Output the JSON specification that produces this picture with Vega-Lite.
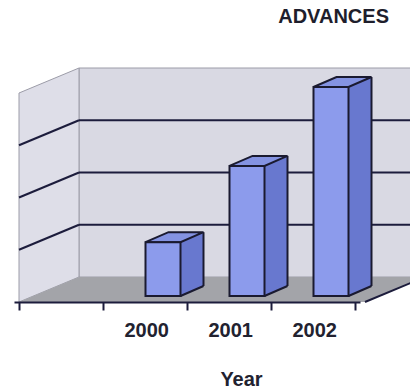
{
  "$schema": "https://vega.github.io/schema/vega-lite/v6.json",
  "autosize": {"type": "none"},
  "width": 346,
  "height": 209,
  "padding": {"left": 14, "top": 93, "right": 50, "bottom": 86},
  "background": "white",
  "config": {"view": {"stroke": null}},
  "title": {"text": "ADVANCES", "anchor": "end", "frame": "group", "baseline": "alphabetic", "offset": 23, "dx": 29, "font": "Liberation Sans", "fontSize": 20, "fontWeight": "bold", "color": "#1e1e2c"},
  "datasets": {
    "bars": [
      {"Year": 2000, "Value": 1.03},
      {"Year": 2001, "Value": 2.49},
      {"Year": 2002, "Value": 4.0}
    ],
    "grid": [{"level": 1}, {"level": 2}, {"level": 3}],
    "frame": [{"part": "walls"}]
  },
  "layer": [
    {
      "data": {"name": "frame"},
      "mark": {"type": "rect", "fill": "#d9d9e3", "stroke": "#9c9ca8", "strokeWidth": 1, "xOffset": 60, "x2Offset": 60, "yOffset": -25, "y2Offset": -25},
      "encoding": {
        "x": {"datum": 1998.5, "type": "quantitative", "scale": {"domain": [1998.5, 2002.5], "nice": false, "zero": false}},
        "x2": {"datum": 2002.5},
        "y": {"datum": 0, "type": "quantitative", "scale": {"domain": [0, 4], "nice": false}, "axis": null},
        "y2": {"datum": 4}
      }
    },
    {
      "data": {"name": "frame"},
      "mark": {"type": "point", "shape": "M0,0L0,-209L60,-234L60,-25Z", "size": 4, "filled": true, "opacity": 1, "fill": "#dedee8", "stroke": "#9c9ca8", "strokeWidth": 1},
      "encoding": {
        "x": {"datum": 1998.5, "type": "quantitative", "scale": {"domain": [1998.5, 2002.5], "nice": false, "zero": false}},
        "y": {"datum": 0, "type": "quantitative", "scale": {"domain": [0, 4], "nice": false}, "axis": null}
      }
    },
    {
      "data": {"name": "grid"},
      "mark": {"type": "rule", "stroke": "#1c1c3c", "strokeWidth": 2, "xOffset": 60, "x2Offset": 60, "yOffset": -25},
      "encoding": {
        "x": {"datum": 1998.5, "type": "quantitative", "scale": {"domain": [1998.5, 2002.5], "nice": false, "zero": false}},
        "x2": {"datum": 2002.5},
        "y": {"field": "level", "type": "quantitative", "scale": {"domain": [0, 4], "nice": false}, "axis": null}
      }
    },
    {
      "data": {"name": "grid"},
      "mark": {"type": "point", "shape": "M0,0L60,-25", "size": 4, "filled": false, "opacity": 1, "stroke": "#1c1c3c", "strokeWidth": 2},
      "encoding": {
        "x": {"datum": 1998.5, "type": "quantitative", "scale": {"domain": [1998.5, 2002.5], "nice": false, "zero": false}},
        "y": {"field": "level", "type": "quantitative", "scale": {"domain": [0, 4], "nice": false}, "axis": null}
      }
    },
    {
      "data": {"name": "frame"},
      "mark": {"type": "point", "shape": "M0,0L346,0L406,-25L60,-25Z", "size": 4, "filled": true, "opacity": 1, "fill": "#a3a4a9", "strokeWidth": 0},
      "encoding": {
        "x": {"datum": 1998.5, "type": "quantitative", "scale": {"domain": [1998.5, 2002.5], "nice": false, "zero": false}},
        "y": {"datum": 0, "type": "quantitative", "scale": {"domain": [0, 4], "nice": false}, "axis": null}
      }
    },
    {
      "data": {"name": "frame"},
      "mark": {"type": "point", "shape": "M346,0L406,-25", "size": 4, "filled": false, "opacity": 1, "stroke": "#1c1c3c", "strokeWidth": 2},
      "encoding": {
        "x": {"datum": 1998.5, "type": "quantitative", "scale": {"domain": [1998.5, 2002.5], "nice": false, "zero": false}},
        "y": {"datum": 0, "type": "quantitative", "scale": {"domain": [0, 4], "nice": false}, "axis": null}
      }
    },
    {
      "data": {"name": "bars"},
      "mark": {"type": "bar", "width": 35, "fill": "#6878cf", "strokeWidth": 0, "xOffset": 41, "yOffset": -16, "y2Offset": -16},
      "encoding": {
        "x": {"field": "Year", "type": "quantitative", "scale": {"domain": [1998.5, 2002.5], "nice": false, "zero": false}},
        "y": {"field": "Value", "type": "quantitative", "scale": {"domain": [0, 4], "nice": false}, "axis": null}
      }
    },
    {
      "data": {"name": "bars"},
      "mark": {"type": "point", "shape": "M-1,0L0,0L23,-10L23,-11L-1,-11Z", "size": 4, "filled": true, "opacity": 1, "fill": "#6878cf", "strokeWidth": 0, "xOffset": 35.5, "yOffset": -6},
      "encoding": {
        "x": {"field": "Year", "type": "quantitative", "scale": {"domain": [1998.5, 2002.5], "nice": false, "zero": false}},
        "y": {"datum": 0, "type": "quantitative", "scale": {"domain": [0, 4], "nice": false}, "axis": null}
      }
    },
    {
      "data": {"name": "bars"},
      "mark": {"type": "point", "shape": "M0,0L23,-10", "size": 4, "filled": false, "opacity": 1, "stroke": "#1a1a30", "strokeWidth": 2, "xOffset": 35.5, "yOffset": -6},
      "encoding": {
        "x": {"field": "Year", "type": "quantitative", "scale": {"domain": [1998.5, 2002.5], "nice": false, "zero": false}},
        "y": {"datum": 0, "type": "quantitative", "scale": {"domain": [0, 4], "nice": false}, "axis": null}
      }
    },
    {
      "data": {"name": "bars"},
      "mark": {"type": "rule", "stroke": "#1a1a30", "strokeWidth": 2, "xOffset": 58.5, "yOffset": -16, "y2Offset": -16},
      "encoding": {
        "x": {"field": "Year", "type": "quantitative", "scale": {"domain": [1998.5, 2002.5], "nice": false, "zero": false}},
        "y": {"field": "Value", "type": "quantitative", "scale": {"domain": [0, 4], "nice": false}, "axis": null},
        "y2": {"datum": 0}
      }
    },
    {
      "data": {"name": "bars"},
      "mark": {"type": "point", "shape": "M-17.5,0L17.5,0L40.5,-10L5.5,-10Z", "size": 4, "filled": true, "opacity": 1, "fill": "#8493e2", "stroke": "#1a1a30", "strokeWidth": 2, "xOffset": 18, "yOffset": -6},
      "encoding": {
        "x": {"field": "Year", "type": "quantitative", "scale": {"domain": [1998.5, 2002.5], "nice": false, "zero": false}},
        "y": {"field": "Value", "type": "quantitative", "scale": {"domain": [0, 4], "nice": false}, "axis": null}
      }
    },
    {
      "data": {"name": "bars"},
      "mark": {"type": "bar", "width": 35, "fill": "#8c9bec", "stroke": "#1a1a30", "strokeWidth": 2, "xOffset": 18, "yOffset": -6, "y2Offset": -6},
      "encoding": {
        "x": {
          "field": "Year", "type": "quantitative",
          "scale": {"domain": [1998.5, 2002.5], "nice": false, "zero": false},
          "axis": {
            "values": [1998.5, 1999.5, 2000.5, 2001.5, 2002.5],
            "tickCount": 20,
            "labelExpr": "datum.value > 1999 && datum.value < 2002 ? format(datum.value + 0.5, 'd') : ''",
            "labelOffset": 43.25,
            "tickColor": "#1c1c3c",
            "tickSize": 8, "tickWidth": 2,
            "domainColor": "#1c1c3c", "domainWidth": 2,
            "grid": false, "zindex": 1,
            "labelFont": "Liberation Sans", "labelFontSize": 20, "labelFontWeight": "bold", "labelColor": "#222230",
            "labelPadding": 10, "labelOverlap": false, "labelFlush": false, "labelBound": false,
            "title": "Year", "titleFont": "Liberation Sans", "titleFontSize": 20, "titleFontWeight": "bold", "titleColor": "#222230",
            "titleX": 227, "titleY": 83, "titleBaseline": "alphabetic", "titleAlign": "center"
          }
        },
        "y": {"field": "Value", "type": "quantitative", "scale": {"domain": [0, 4], "nice": false}, "axis": null}
      }
    }
  ]
}
